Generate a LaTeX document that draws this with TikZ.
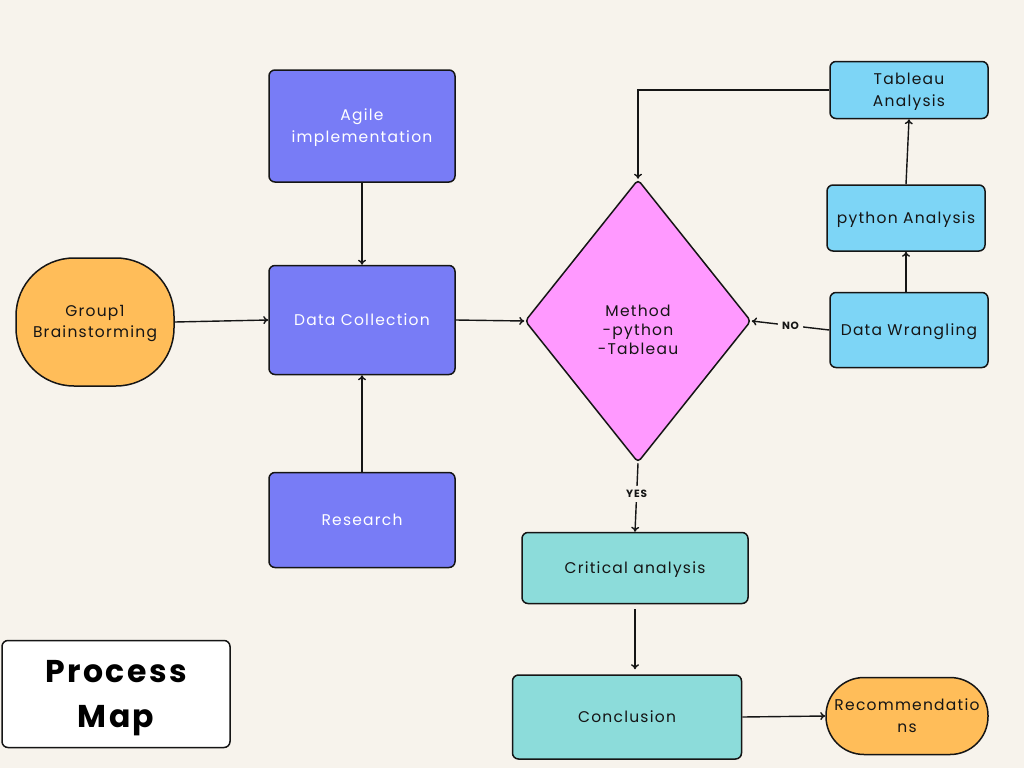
\documentclass[tikz,border=0pt]{standalone}
\usepackage{fontspec}
\setmainfont{Poppins}[LetterSpace=8]
\newfontfamily\titlefont{Poppins}[LetterSpace=8]
\usetikzlibrary{shapes.geometric,arrows.meta}
\definecolor{paper}{HTML}{F7F3EC}
\definecolor{orangebox}{HTML}{FFBD59}
\definecolor{bluebox}{HTML}{787CF6}
\definecolor{pinkbox}{HTML}{FF99FF}
\definecolor{skybox}{HTML}{7DD5F6}
\definecolor{tealbox}{HTML}{8CDCDA}
\definecolor{ink}{HTML}{151515}
\tikzset{
  box/.style={draw=ink, line width=1.5pt, rounded corners=6pt, align=center,
    font=\fontsize{15.5}{22}\selectfont, text=ink, inner sep=2pt, text depth=1pt},
  bluestep/.style={box, fill=bluebox, text=white},
  skystep/.style={box, fill=skybox},
  tealstep/.style={box, fill=tealbox},
  flow/.style={draw=ink, line width=1.4pt, -{To[length=5pt,width=8pt]}},
  plain/.style={draw=ink, line width=1.4pt},
  tag/.style={font=\bfseries\fontsize{10.5}{11}\selectfont, text=ink, fill=paper, inner sep=4pt},
}
\begin{document}
\begin{tikzpicture}[x=1pt,y=-1pt]
\fill[paper] (0,0) rectangle (1024,768);
\useasboundingbox (0,0) rectangle (1024,768);

% left column
\node[box, fill=orangebox, rounded corners=58pt, minimum width=158pt, minimum height=128pt, font=\fontsize{15.5}{21}\selectfont] (brain) at (95,322) {Group1\\Brainstorming};
\node[bluestep, minimum width=186pt, minimum height=112pt] (agile) at (362,126) {Agile\\implementation};
\node[bluestep, minimum width=186pt, minimum height=109pt] (collect) at (362,320) {Data Collection};
\node[bluestep, minimum width=186pt, minimum height=95pt] (research) at (362,520) {Research};

% decision diamond and its text
\node[diamond, draw=ink, line width=1.5pt, fill=pinkbox, rounded corners=4pt, minimum width=226pt, minimum height=283pt, inner sep=0pt] (method) at (638,321) {};
\node[align=center, font=\fontsize{15.5}{19}\selectfont, text=ink] (methodtext) at ([yshift=-9pt]method.center) {Method\\-python\\-Tableau};

% right column
\node[skystep, minimum width=158pt, minimum height=57pt] (tableau) at (909,90) {Tableau\\Analysis};
\node[skystep, minimum width=158pt, minimum height=66pt] (python) at (906,218) {python Analysis};
\node[skystep, minimum width=158pt, minimum height=75pt] (wrangle) at (909,330) {Data Wrangling};

% bottom row
\node[tealstep, minimum width=226pt, minimum height=71pt] (critical) at (635,568) {Critical analysis};
\node[tealstep, minimum width=229pt, minimum height=84pt] (conclude) at (627,717) {Conclusion};
\node[box, fill=orangebox, rounded corners=38pt, minimum width=161pt, minimum height=77pt, text width=158pt, text depth={}] (recommend) at (907,716) {Recommendatio\\ns};

% title card
\node[draw=ink, line width=1.5pt, fill=white, rounded corners=6pt, minimum width=228pt, minimum height=107pt] (title) at (116,694) {};
\node[align=center, font=\titlefont\bfseries\fontsize{31.5}{45}\selectfont, text=black] (titletext) at ([yshift=-4pt]title.center) {Process\\Map};

% connectors
\draw[flow] (agile.south) -- (collect.north);
\draw[flow] (research.north) -- (collect.south);
\draw[flow] (brain.east) -- (collect.west);
\draw[flow] (collect.east) -- (method.west);
\draw[flow] (wrangle.west) -- node[tag, pos=0.5] {NO} (method.east);
\draw[flow] (method.south) -- node[tag, pos=0.45] {YES} (critical.north);
\coordinate (critbelow) at ([yshift=-5pt]critical.south);
\coordinate (concabove) at (critbelow |- conclude.north);
\draw[flow] (critbelow) -- ([yshift=5pt]concabove);
\draw[flow] (conclude.east) -- (recommend.west);
\draw[flow] (wrangle.north -| python.south) -- (python.south);
\draw[flow] (python.north) -- (tableau.south);
\coordinate (corner) at (method.north |- tableau.west);
\draw[plain] (tableau.west) -- ([xshift=-1pt]corner);
\draw[flow] (corner) -- (method.north);
\end{tikzpicture}
\end{document}
